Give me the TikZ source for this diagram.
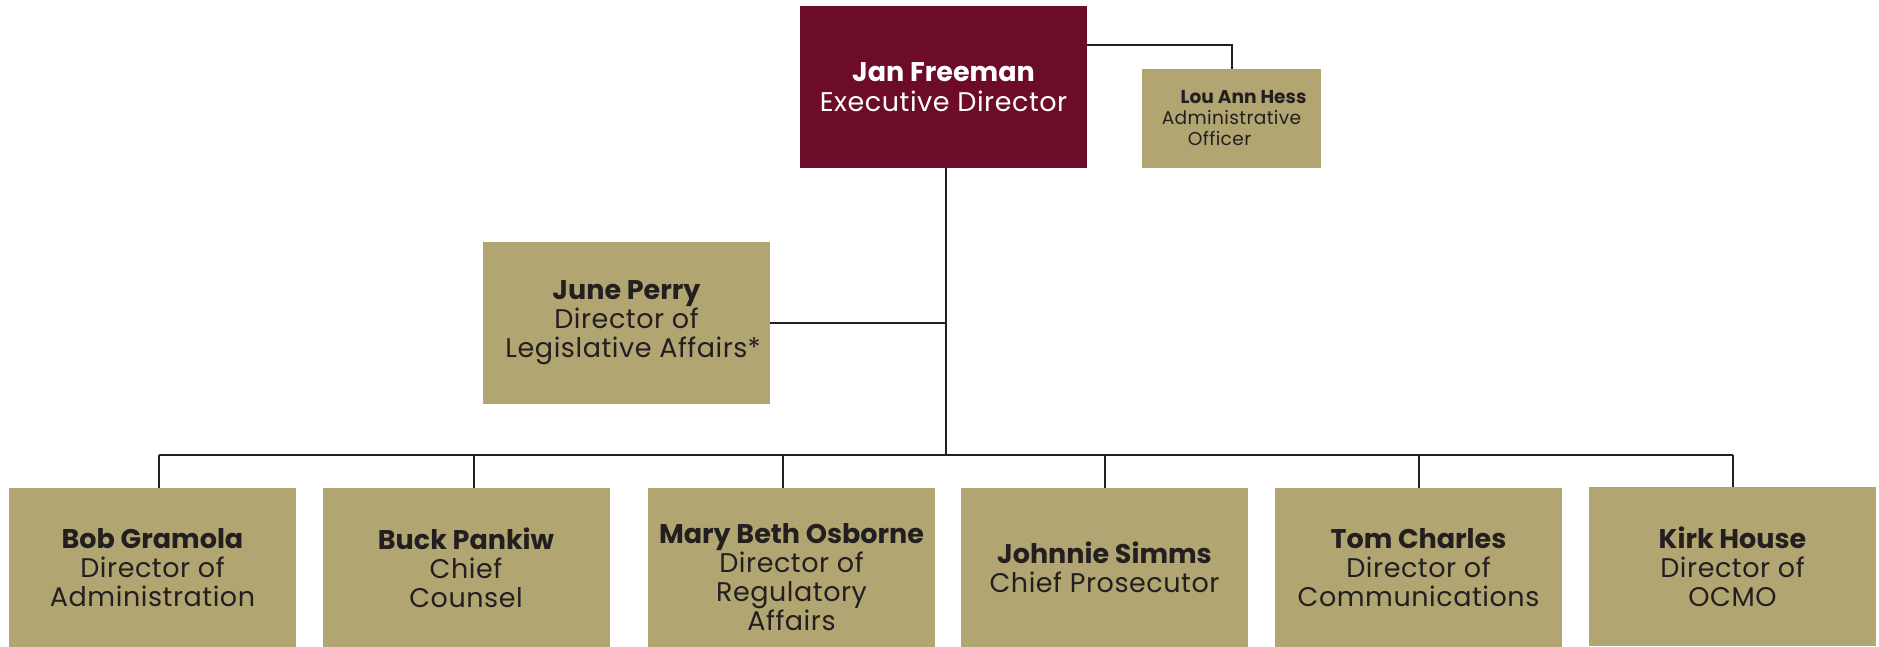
\documentclass[tikz,border=0pt]{standalone}
\usepackage{fontspec}
\setmainfont[LetterSpace=2, BoldFeatures={LetterSpace=0}]{Poppins}
\usetikzlibrary{positioning}
\definecolor{maroon}{HTML}{6D0C29}
\definecolor{khaki}{HTML}{B1A572}
\definecolor{ink}{HTML}{231F20}
\tikzset{box/.style = {fill=khaki, text=ink, align=center, inner sep=0pt,
                       minimum width=143.5pt, minimum height=79.5pt,
                       font=\fontsize{13.5}{14.5}\selectfont}}
\tikzset{link/.style = {draw=ink, line width=1pt}}

\begin{document}
\begin{tikzpicture}[x=0.5pt, y=-0.5pt]
      \useasboundingbox (0, 0) rectangle (1879, 647);

      \node [box, fill=maroon, text=white, minimum height=81pt,
             font=\fontsize{13.5}{15}\selectfont] (jan) at (943.5, 87)
        {\textbf{Jan Freeman}\\Executive Director};
      \node [box, minimum width=89.5pt, minimum height=49.5pt,
             font=\fontsize{9.3}{10.5}\selectfont] (lou) at (1231.5, 118.5)
        {\hspace*{12pt}\textbf{Lou Ann Hess}\\Administrative\\Officer\hspace*{12pt}};
      \node [box, minimum height=81pt] (june) at (626.5, 323)
        {\textbf{June Perry}\\Director of\\Legislative Affairs\rlap{*}};

      \node [box] (bob) at (152.5, 567.5) {\textbf{Bob Gramola}\\Director of\\Administration};
      \node [box] (buck) at (466, 567.5) {\textbf{Buck Pankiw}\\Chief\\Counsel};
      \node [box, minimum height=89.5pt] (mary) at (791.5, 577.5) {\textbf{Mary Beth Osborne}\\Director of\\Regulatory\\Affairs};
      \node [box] (johnnie) at (1104.5, 567.5) {\textbf{Johnnie Simms}\\Chief Prosecutor};
      \node [box] (tom) at (1418.5, 567.5) {\textbf{Tom Charles}\\Director of\\Communications};
      \node [box] (kirk) at (1732.5, 566.5) {\textbf{Kirk House}\\Director of\\OCMO};

      \coordinate (bus) at (946, 455);

      \draw [link] (jan.north east |- 0, 45) -| (lou.north);
      \draw [link] (jan.south -| bus) -- (bus);
      \draw [link] (june.east) -- (june.east -| bus);

      \draw [link] ([xshift=3.25pt]bob.north |- bus) -- (kirk.north |- bus);
      \draw [link] ([xshift=3.25pt]bob.north) -- ([xshift=3.25pt]bob.north |- bus);
      \draw [link] ([xshift=4pt]buck.north) -- ([xshift=4pt]buck.north |- bus);
      \draw [link] ([xshift=-4.25pt]mary.north) -- ([xshift=-4.25pt]mary.north |- bus);
      \draw [link] (johnnie.north) -- (johnnie.north |- bus);
      \draw [link] (tom.north) -- (tom.north |- bus);
      \draw [link] (kirk.north) -- (kirk.north |- bus);
    \end{tikzpicture}
\end{document}
